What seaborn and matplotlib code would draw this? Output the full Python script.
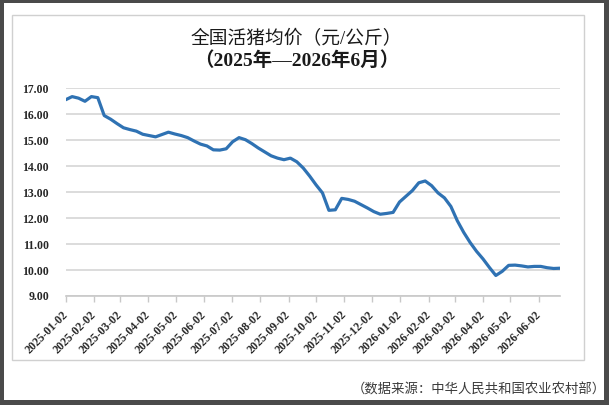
import pandas as pd
import numpy as np
import matplotlib.pyplot as plt
import matplotlib.dates as mdates
from matplotlib.patches import Rectangle
import seaborn as sns

# weekly national live-pig price (yuan/kg)
start_date = '2025-01-02'
prices = [16.56, 16.68, 16.62, 16.50, 16.68, 16.64, 15.95, 15.81, 15.64, 15.48,
          15.41, 15.35, 15.23, 15.18, 15.13, 15.22, 15.31, 15.24, 15.18, 15.10,
          14.97, 14.85, 14.78, 14.63, 14.62, 14.67, 14.94, 15.10, 15.02, 14.87,
          14.70, 14.55, 14.40, 14.31, 14.25, 14.31, 14.17, 13.93, 13.62, 13.28,
          12.97, 12.30, 12.32, 12.76, 12.72, 12.65, 12.52, 12.39, 12.25, 12.15,
          12.18, 12.22, 12.62, 12.84, 13.06, 13.36, 13.43, 13.25, 12.97, 12.78,
          12.45, 11.90, 11.45, 11.06, 10.72, 10.43, 10.10, 9.79, 9.95, 10.18,
          10.19, 10.16, 10.12, 10.14, 10.14, 10.09, 10.06, 10.07]
dates = pd.date_range(start_date, periods=len(prices), freq='7D')

tick_labels = ['2025-01-02', '2025-02-02', '2025-03-02', '2025-04-02', '2025-05-02',
               '2025-06-02', '2025-07-02', '2025-08-02', '2025-09-02', '2025-10-02',
               '2025-11-02', '2025-12-02', '2026-01-02', '2026-02-02', '2026-03-02',
               '2026-04-02', '2026-05-02', '2026-06-02']
y_ticks = [9, 10, 11, 12, 13, 14, 15, 16, 17]

df = pd.DataFrame({'Date': dates, 'Price': prices})

sns.set_theme(style='white')
plt.rcParams['font.family'] = ['Liberation Serif', 'Noto Sans CJK SC', 'DejaVu Sans']

W, H = 609, 405
fig = plt.figure(figsize=(W / 100, H / 100), dpi=100)
fig.patch.set_facecolor('#4a4a4a')

# white page inside the dark frame
fig.patches.append(Rectangle((4 / W, 5 / H), (W - 9) / W, (H - 8) / H,
                             transform=fig.transFigure, facecolor='white',
                             edgecolor='none', zorder=0))
# light grey chart box
fig.patches.append(Rectangle((12 / W, 45 / H), 572 / W, 345 / H,
                             transform=fig.transFigure, facecolor='white',
                             edgecolor='#d0d0d0', linewidth=1.0, zorder=1))

ax = fig.add_axes([65.7 / W, (H - 296) / H, (560 - 65.7) / W, (296 - 88.3) / H])
ax.set_facecolor('none')
ax.set_zorder(3)

sns.lineplot(data=df, x='Date', y='Price', ax=ax, color='#2f72b3', linewidth=2.3)

ax.set_xlim(pd.Timestamp(start_date), pd.Timestamp('2026-06-25'))
ax.set_ylim(9, 17)
ax.set_yticks(y_ticks)
ax.set_yticklabels([f'{v:.2f}' for v in y_ticks], fontsize=8.5, fontweight='bold')
ax.yaxis.grid(True, color='#d9d9d9', linewidth=1.3)
ax.set_axisbelow(True)

ticks = pd.to_datetime(tick_labels)
ax.set_xticks(ticks)
ax.set_xticklabels(tick_labels, rotation=45, ha='right', va='center',
                   rotation_mode='anchor', fontsize=8.5, fontweight='bold')
ax.tick_params(axis='x', which='major', direction='out', length=4, width=1,
               color='#c8c8c8', pad=8, bottom=True)
ax.tick_params(axis='y', length=0, pad=12)

for s in ['left', 'right', 'top']:
    ax.spines[s].set_visible(False)
ax.spines['bottom'].set_color('#c8c8c8')
ax.spines['bottom'].set_linewidth(1.2)
ax.set_xlabel('')
ax.set_ylabel('')

fig.text(296 / W, 1 - 39 / H, '全国活猪均价（元/公斤）', ha='center', va='center',
         fontsize=13.5, color='#1a1a1a')
fig.text(297 / W, 1 - 61 / H, '（2025年—2026年6月）', ha='center', va='center',
         fontsize=14, fontweight='bold', color='#1a1a1a')
fig.text(606 / W, 1 - 390 / H, '（数据来源：中华人民共和国农业农村部）', ha='right',
         va='center', fontsize=9.6, color='#3a3a3a')

fig.savefig('out.png', dpi=100, facecolor=fig.get_facecolor())
